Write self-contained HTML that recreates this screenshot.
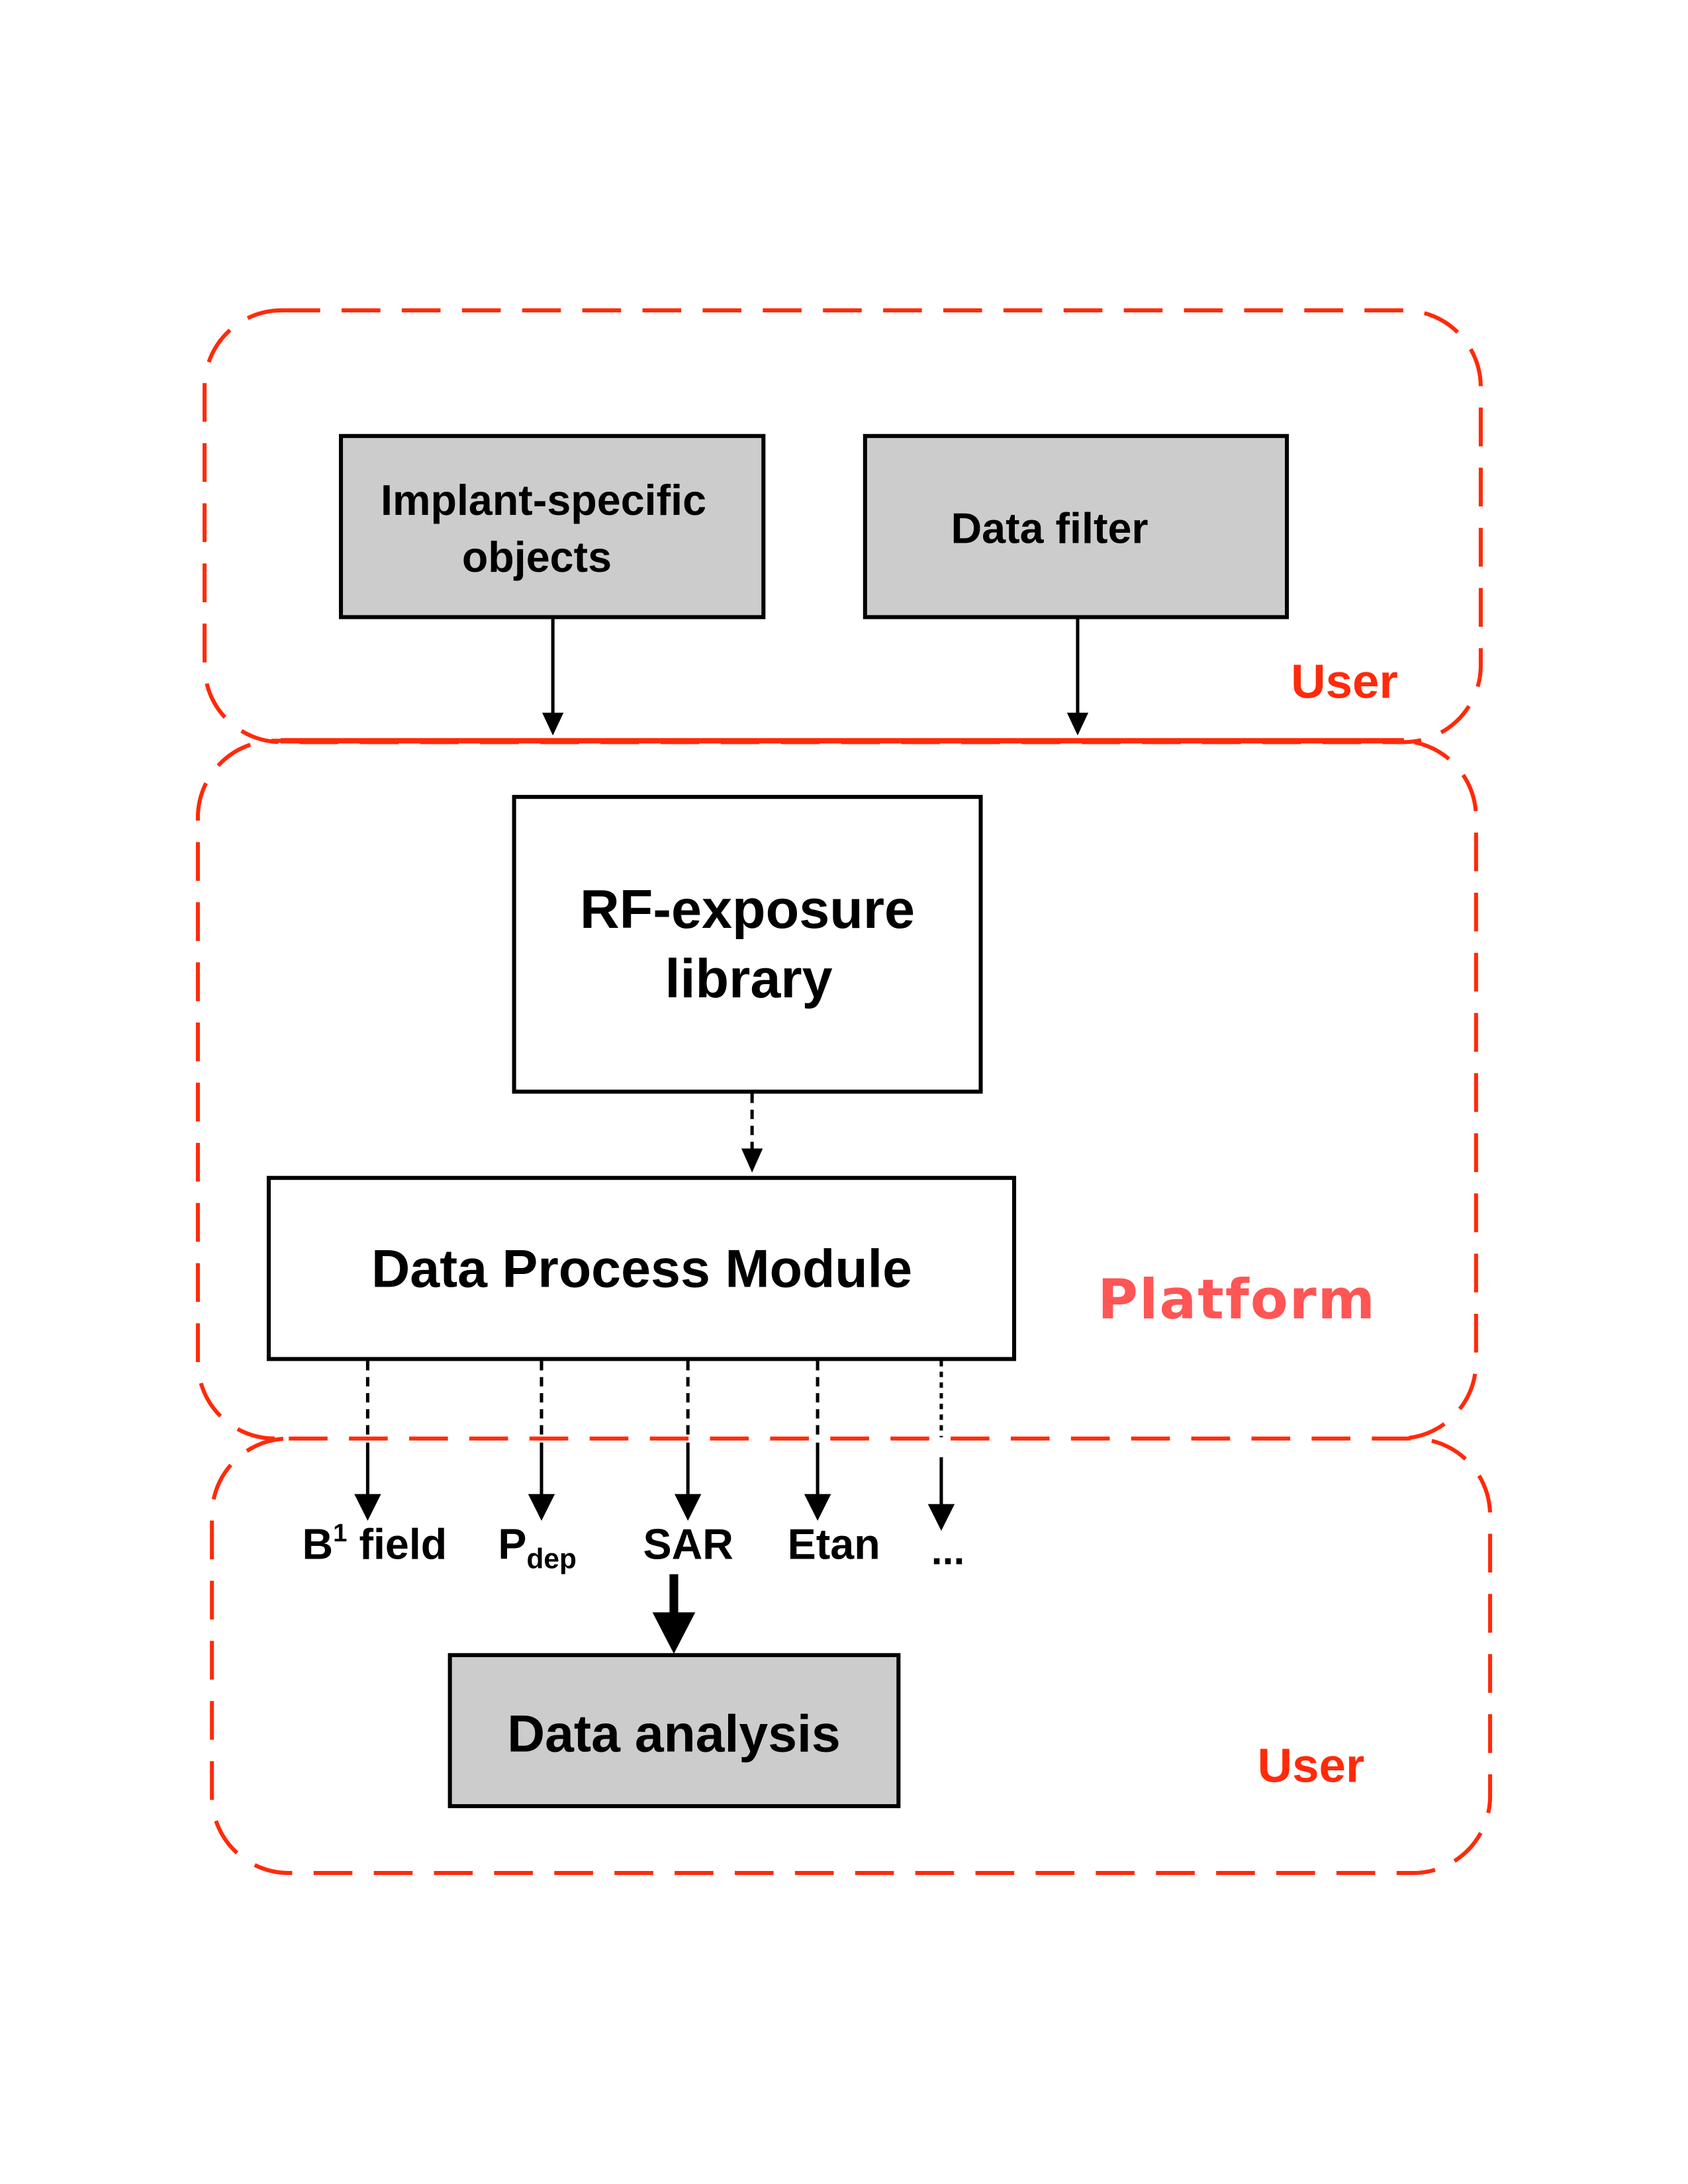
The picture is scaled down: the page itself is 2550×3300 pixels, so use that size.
<!DOCTYPE html>
<html><head><meta charset="utf-8"><style>
html,body{margin:0;padding:0;background:#fff;}
svg{display:block;}
text{font-family:"Liberation Sans",Arial,sans-serif;font-weight:bold;}
</style></head><body>
<svg width="2550" height="3300" viewBox="0 0 2525 3267" xmlns="http://www.w3.org/2000/svg">
<g fill="none" stroke="#ff2a0a" stroke-width="6" stroke-dasharray="58 32">
<rect x="306" y="464" width="1909" height="646" rx="115" ry="115"/>
<path d="M 411 2152 A 115 115 0 0 1 296 2037 L 296 1223 A 115 115 0 0 1 411 1108 L 2093 1108 A 115 115 0 0 1 2208 1223 L 2208 2037 A 115 115 0 0 1 2093 2152"/>
<rect x="317" y="2152" width="1912" height="650" rx="115" ry="115"/>
</g>
<line x1="420" y1="1108" x2="2100" y2="1108" stroke="#ff2a0a" stroke-width="8"/>

<rect x="510" y="652" width="632" height="271" fill="#cccccc" stroke="#000" stroke-width="6"/>
<rect x="1294" y="652" width="631" height="271" fill="#cccccc" stroke="#000" stroke-width="6"/>
<text x="813" y="770" font-size="64" text-anchor="middle">Implant-specific</text>
<text x="803" y="855" font-size="64" text-anchor="middle">objects</text>
<text x="1570" y="812" font-size="64" text-anchor="middle">Data filter</text>

<line x1="827" y1="923" x2="827" y2="1070" stroke="#000" stroke-width="5"/>
<polygon points="811,1066 843,1066 827,1100" fill="#000"/>
<line x1="1612" y1="923" x2="1612" y2="1070" stroke="#000" stroke-width="5"/>
<polygon points="1596,1066 1628,1066 1612,1100" fill="#000"/>
<text x="1931" y="1044" font-size="72" fill="#ff2a0a">User</text>

<rect x="769" y="1192" width="698" height="441" fill="#fff" stroke="#000" stroke-width="6"/>
<text x="1118" y="1388" font-size="82" text-anchor="middle">RF-exposure</text>
<text x="1120" y="1492" font-size="82" text-anchor="middle">library</text>
<line x1="1125" y1="1636" x2="1125" y2="1720" stroke="#000" stroke-width="5" stroke-dasharray="14 10"/>
<polygon points="1109,1718 1141,1718 1125,1754" fill="#000"/>

<rect x="402" y="1762" width="1115" height="271" fill="#fff" stroke="#000" stroke-width="6"/>
<text x="960" y="1925" font-size="80" text-anchor="middle">Data Process Module</text>
<text x="1642" y="1972" font-size="82" fill="#ff5555" font-weight="900" style="font-family:'DejaVu Sans','Liberation Sans',sans-serif;letter-spacing:2px">Platform</text>

<g stroke="#000" stroke-width="5">
<line x1="550" y1="2036" x2="550" y2="2150" stroke-dasharray="14 10"/>
<line x1="550" y1="2158" x2="550" y2="2240"/>
<line x1="810" y1="2036" x2="810" y2="2150" stroke-dasharray="14 10"/>
<line x1="810" y1="2158" x2="810" y2="2240"/>
<line x1="1029" y1="2036" x2="1029" y2="2150" stroke-dasharray="14 10"/>
<line x1="1029" y1="2158" x2="1029" y2="2240"/>
<line x1="1223" y1="2036" x2="1223" y2="2150" stroke-dasharray="14 10"/>
<line x1="1223" y1="2158" x2="1223" y2="2240"/>
<line x1="1408" y1="2036" x2="1408" y2="2150" stroke-dasharray="8 8"/>
<line x1="1408" y1="2180" x2="1408" y2="2255"/>
</g>
<g fill="#000">
<polygon points="530,2235 570,2235 550,2275"/>
<polygon points="790,2235 830,2235 810,2275"/>
<polygon points="1009,2235 1049,2235 1029,2275"/>
<polygon points="1203,2235 1243,2235 1223,2275"/>
<polygon points="1388,2250 1428,2250 1408,2290"/>
</g>
<text x="452" y="2332" font-size="64">B<tspan font-size="38" dy="-26">1</tspan><tspan dy="26"> field</tspan></text>
<text x="745" y="2332" font-size="64">P<tspan font-size="42" dy="14">dep</tspan></text>
<text x="962" y="2332" font-size="64">SAR</text>
<text x="1178" y="2332" font-size="64">Etan</text>
<text x="1393" y="2340" font-size="60">...</text>

<line x1="1008" y1="2355" x2="1008" y2="2420" stroke="#000" stroke-width="13"/>
<polygon points="976,2412 1040,2412 1008,2474" fill="#000"/>

<rect x="673" y="2476" width="671" height="226" fill="#cccccc" stroke="#000" stroke-width="6"/>
<text x="1008" y="2620" font-size="78" text-anchor="middle">Data analysis</text>
<text x="1881" y="2666" font-size="72" fill="#ff2a0a">User</text>
</svg>
</body></html>
